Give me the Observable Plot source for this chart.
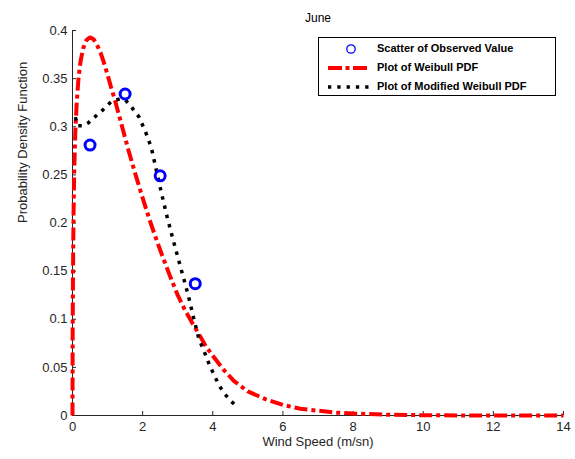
<!DOCTYPE html>
<html>
<head>
<meta charset="utf-8">
<script src="https://cdn.jsdelivr.net/npm/d3@7"></script>
<script src="https://cdn.jsdelivr.net/npm/@observablehq/plot@0.6"></script>
<style>
  body { margin: 0; background: #fff; }
  #wrap { position: relative; width: 575px; height: 459px; font-family: "Liberation Sans", Arial, sans-serif; }
  #legend { position: absolute; left: 318px; top: 37px; width: 238px; height: 59px; border: 1px solid #000; background: #fff; box-sizing: border-box; }
  .row { position: absolute; left: 0; height: 16px; width: 100%; }
  .row svg { position: absolute; left: 8px; top: 0; }
  .row span { position: absolute; left: 58px; top: 1px; font-weight: bold; font-size: 11px; color: #000; white-space: nowrap; }
</style>
</head>
<body>
<div id="wrap"></div>
<script>
// Observed values (scatter)
const obsX = [0.5, 1.5, 2.5, 3.5];
const obsY = [0.281, 0.334, 0.249, 0.137];

// Weibull PDF
const weibX = [0, 0.005, 0.015, 0.03, 0.05, 0.08, 0.12, 0.17, 0.23, 0.3, 0.4, 0.5, 0.6, 0.7, 0.8, 0.9, 1.0, 1.1, 1.2, 1.4, 1.6, 1.8, 2.0, 2.2, 2.4, 2.6, 2.8, 3.0, 3.2, 3.4, 3.6, 3.8, 4.0, 4.3, 4.6, 5.0, 5.5, 6.0, 6.5, 7.0, 7.5, 8.0, 9.0, 10, 11, 12, 13, 14];
const weibY = [0, 0.09, 0.15, 0.21, 0.255, 0.295, 0.325, 0.35, 0.368, 0.381, 0.39, 0.393, 0.391, 0.385, 0.377, 0.366, 0.354, 0.341, 0.329, 0.302, 0.275, 0.25, 0.226, 0.203, 0.182, 0.162, 0.143, 0.125, 0.11, 0.097, 0.085, 0.072, 0.062, 0.048, 0.036, 0.025, 0.017, 0.011, 0.007, 0.005, 0.003, 0.002, 0.0008, 0.0003, 0.0001, 0, 0, 0];

// Modified Weibull PDF
const modX = [0.08, 0.15, 0.3, 0.45, 0.6, 0.85, 1.1, 1.35, 1.5, 1.65, 1.9, 2.1, 2.25, 2.4, 2.55, 2.7, 2.85, 3.0, 3.15, 3.3, 3.45, 3.6, 3.75, 3.9, 4.05, 4.2, 4.35, 4.5, 4.7];
const modY = [0.31, 0.301, 0.301, 0.304, 0.309, 0.317, 0.326, 0.329, 0.328, 0.322, 0.31, 0.293, 0.278, 0.253, 0.229, 0.206, 0.185, 0.165, 0.145, 0.125, 0.102, 0.08, 0.067, 0.053, 0.041, 0.03, 0.022, 0.0156, 0.0087];

// Tick labels
const xTicks = [0, 2, 4, 6, 8, 10, 12, 14];
const yTicks = [0, 0.05, 0.1, 0.15, 0.2, 0.25, 0.3, 0.35, 0.4];

const titleText = "June";
const xLabel = "Wind Speed (m/sn)";
const yLabel = "Probability Density Function";
const legendLabels = ["Scatter of Observed Value", "Plot of Weibull PDF", "Plot of Modified Weibull PDF"];

const obs = obsX.map((x, i) => ({x, y: obsY[i]}));
const weib = weibX.map((x, i) => ({x, y: weibY[i]}));
const mod = modX.map((x, i) => ({x, y: modY[i]}));

const W = 575, H = 459;
const mL = 72, mR = 12, mT = 30, mB = 44;
const frameW = W - mL - mR, frameH = H - mT - mB;

const chart = Plot.plot({
  width: W,
  height: H,
  marginLeft: mL,
  marginRight: mR,
  marginTop: mT,
  marginBottom: mB,
  style: {background: "#fff", fontFamily: "'Liberation Sans', Arial, sans-serif", fontSize: "13px", color: "#262626", overflow: "visible"},
  x: {domain: [0, 14]},
  y: {domain: [0, 0.4]},
  marks: [
    Plot.axisX({ticks: xTicks, tickSize: 0, tickPadding: 6, label: null, fontSize: 13, tickFormat: d => String(d)}),
    Plot.axisY({ticks: yTicks, tickSize: 0, tickPadding: 5, label: null, fontSize: 13, tickFormat: d => String(+d.toFixed(2))}),
    Plot.ruleX(xTicks, {x: d => d, insetTop: frameH - 4, stroke: "#262626", strokeWidth: 1}),
    Plot.ruleY(yTicks, {y: d => d, insetRight: frameW - 4, stroke: "#262626", strokeWidth: 1}),
    Plot.ruleY([0], {stroke: "#262626", strokeWidth: 1}),
    Plot.ruleX([0], {stroke: "#262626", strokeWidth: 1}),
    Plot.line(weib, {x: "x", y: "y", stroke: "#ff0000", strokeWidth: 4, strokeDasharray: "13,4,4,4", strokeLinecap: "butt", strokeLinejoin: "miter"}),
    Plot.line(mod, {x: "x", y: "y", stroke: "#000", strokeWidth: 3.5, strokeDasharray: "3.5,6", strokeLinecap: "butt", strokeLinejoin: "miter"}),
    Plot.dot(obs, {x: "x", y: "y", r: 5, stroke: "#0000ff", strokeWidth: 3, fill: "none"}),
    Plot.text([titleText], {frameAnchor: "top", dy: -17, fontSize: 12, fill: "#000"}),
    Plot.text([xLabel], {frameAnchor: "bottom", dy: 30, fontSize: 13, fill: "#262626"}),
    Plot.text([yLabel], {frameAnchor: "left", dx: -50, rotate: -90, fontSize: 13, fill: "#262626"})
  ]
});

const wrap = document.getElementById("wrap");
wrap.appendChild(chart);

// Legend
const legend = document.createElement("div");
legend.id = "legend";
const rowTops = [3, 22, 41];
const samples = [
  `<svg width="44" height="16"><circle cx="24" cy="8" r="4.2" fill="none" stroke="#0000ff" stroke-width="1.3"/></svg>`,
  `<svg width="44" height="16"><line x1="1" y1="8" x2="42" y2="8" stroke="#ff0000" stroke-width="4" stroke-dasharray="14,3.5,4,3.5"/></svg>`,
  `<svg width="44" height="16"><line x1="1" y1="8" x2="42" y2="8" stroke="#000" stroke-width="3.3" stroke-dasharray="3.3,6"/></svg>`
];
legendLabels.forEach((lab, i) => {
  const row = document.createElement("div");
  row.className = "row";
  row.style.top = rowTops[i] + "px";
  row.innerHTML = samples[i] + `<span>${lab}</span>`;
  legend.appendChild(row);
});
wrap.appendChild(legend);
</script>
</body>
</html>
